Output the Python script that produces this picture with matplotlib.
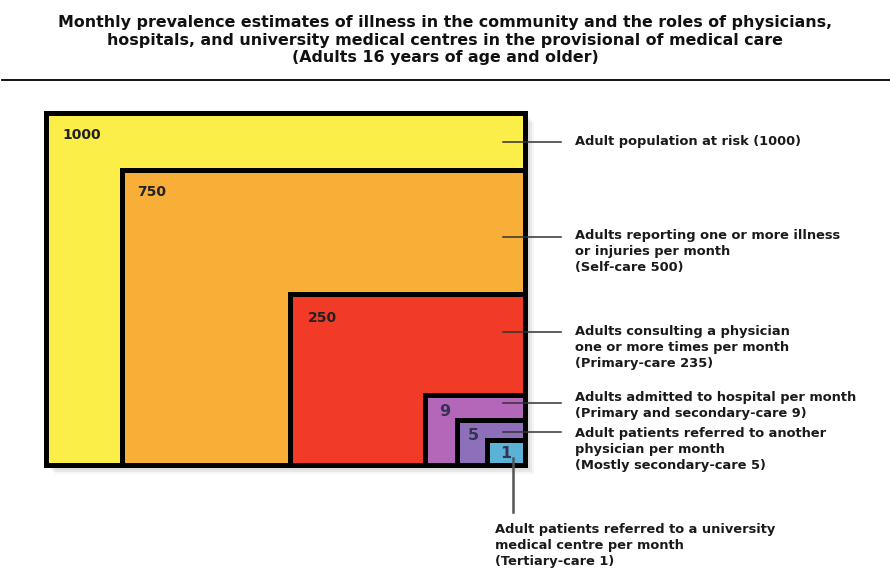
import matplotlib.pyplot as plt
from matplotlib.patches import Rectangle

# values shown in the nested boxes
counts = ["1000", "750", "250", "9", "5", "1"]
colours = ["#fcee48", "#f9ae37", "#f23b26", "#b466b8", "#8d6fba", "#5ab3d6"]
descriptions = [
    "Adult population at risk (1000)",
    "Adults reporting one or more illness\nor injuries per month\n(Self-care 500)",
    "Adults consulting a physician\none or more times per month\n(Primary-care 235)",
    "Adults admitted to hospital per month\n(Primary and secondary-care 9)",
    "Adult patients referred to another\nphysician per month\n(Mostly secondary-care 5)",
    "Adult patients referred to a university\nmedical centre per month\n(Tertiary-care 1)",
]
title = ("Monthly prevalence estimates of illness in the community and the roles of physicians,\n"
         "hospitals, and university medical centres in the provisional of medical care\n"
         "(Adults 16 years of age and older)")

# layout in pixels (all boxes share the bottom right corner)
right, bottom = 525, 465
lefts = [46, 122, 290, 425, 457, 487]
tops = [113, 170, 294, 395, 420, 440]
lead_y = [142, 237, 332, 403, 432]
text_y = [142, 251, 347, 405, 450]

plt.rcParams["font.family"] = ["DejaVu Sans"]
fig = plt.figure(figsize=(8.9, 5.87), dpi=100)
ax = fig.add_axes([0, 0, 1, 1])
ax.set_xlim(0, 890)
ax.set_ylim(587, 0)
ax.axis("off")

ax.text(445, 40, title, ha="center", va="center", fontsize=11.4,
        fontweight="bold", linespacing=1.2, color="#111111")
ax.plot([2, 890], [80, 80], color="black", lw=1.3)

# soft drop shadow
for k, a in zip(range(9, 0, -2), [0.08, 0.1, 0.12, 0.15, 0.18]):
    ax.add_patch(Rectangle((lefts[0] + k, tops[0] + k), right - lefts[0], bottom - tops[0],
                           facecolor="#888888", edgecolor="none", alpha=a, zorder=1))

offs = [(16, 22), (15, 22), (18, 24), (14, 17), (11, 16), (13, 13)]
for i in range(len(counts)):
    ax.add_patch(Rectangle((lefts[i], tops[i]), right - lefts[i], bottom - tops[i],
                           facecolor=colours[i], edgecolor="black", lw=3.6,
                           joinstyle="miter", zorder=2 + i))
    ax.text(lefts[i] + offs[i][0], tops[i] + offs[i][1], counts[i], fontsize=10 if i < 3 else 11.5,
            fontweight="bold", color="#222222" if i < 3 else "#333355", va="center", zorder=10)

for i in range(5):
    ax.plot([503, 561], [lead_y[i], lead_y[i]], color="#333333", lw=1.1, zorder=11)
    ax.text(575, text_y[i], descriptions[i], fontsize=9.4, fontweight="bold",
            va="center", ha="left", linespacing=1.3, color="#1a1a1a", zorder=11)

ax.plot([513, 513], [458, 512], color="#555555", lw=1.8, zorder=11)
ax.text(495, 545, descriptions[5], fontsize=9.4, fontweight="bold",
        va="center", ha="left", linespacing=1.3, color="#1a1a1a")

fig.savefig("out.png", dpi=100)
